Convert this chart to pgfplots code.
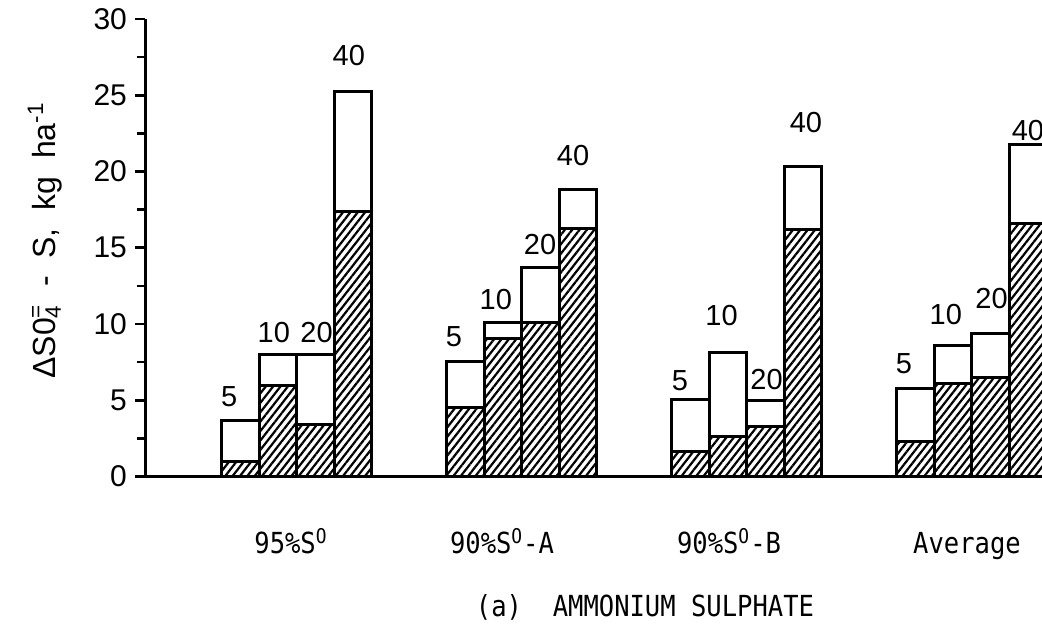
\documentclass[border=0pt]{standalone}
\usepackage{fontspec}
\setmainfont{Liberation Sans}
\newfontfamily\plotmono[FakeStretch=0.88]{DejaVu Sans Mono}
\usepackage{pgfplots}
\pgfplotsset{compat=1.18}
\usetikzlibrary{patterns.meta}
\begin{document}
\begin{tikzpicture}
\begin{axis}[
  at={(0,0)}, anchor=south west,
  scale only axis, width=448.5pt, height=228.75pt,
  xmin=-2.045, xmax=21.875, ymin=0, ymax=30,
  axis lines=left, axis line style={-, line width=1.5pt},
  xtick=\empty,
  ytick={0,5,...,30}, minor ytick={2.5,7.5,...,27.5},
  tick align=outside, major tick length=5pt, minor tick length=4pt,
  every tick/.style={line width=1.3pt, black},
  yticklabel style={font=\fontsize{15}{15}\selectfont, xshift=-0.5pt},
  /pgf/number format/assume math mode=true,
  clip=true,
]
\addplot[ybar, bar width=1, bar shift=0pt, fill=white, draw=black, line width=1.5pt] coordinates {
 (0.5,3.70) (1.5,7.97) (2.5,7.97) (3.5,25.23)
 (6.5,7.53) (7.5,10.09) (8.5,13.72) (9.5,18.83)
 (12.5,5.02) (13.5,8.12) (14.5,4.97) (15.5,20.36)
 (18.5,5.80) (19.5,8.62) (20.5,9.41) (21.5,21.74)
};
\addplot[ybar, bar width=1, bar shift=0pt, draw=black, line width=1.5pt,
  pattern={Lines[angle=52, distance=2.9pt, line width=1.1pt]}] coordinates {
 (0.5,0.97) (1.5,6.00) (2.5,3.44) (3.5,17.36)
 (6.5,4.51) (7.5,9.08) (8.5,10.09) (9.5,16.28)
 (12.5,1.61) (13.5,2.61) (14.5,3.25) (15.5,16.23)
 (18.5,2.28) (19.5,6.13) (20.5,6.46) (21.5,16.62)
};
\begin{scope}[every node/.style={font=\fontsize{14.5}{14.5}\selectfont}]
\node at (axis cs:0.2,5.21) {5};
\node at (axis cs:1.39,9.41) {10};
\node at (axis cs:2.53,9.41) {20};
\node at (axis cs:3.39,27.6) {40};
\node at (axis cs:6.19,9.2) {5};
\node at (axis cs:7.31,11.6) {10};
\node at (axis cs:8.49,15.18) {20};
\node at (axis cs:9.37,21.02) {40};
\node at (axis cs:12.22,6.28) {5};
\node at (axis cs:13.33,10.54) {10};
\node at (axis cs:14.53,6.37) {20};
\node at (axis cs:15.58,23.18) {40};
\node at (axis cs:18.19,7.38) {5};
\node at (axis cs:19.31,10.59) {10};
\node at (axis cs:20.53,11.68) {20};
\node at (axis cs:21.5,22.72) {40};
\end{scope}
\end{axis}
\node[rotate=90, font=\fontsize{16}{16}\selectfont] at (-50pt,118pt)
  {ΔS0\rlap{\textsuperscript{=}}\textsubscript{4}\ \ -\ \ S,\ \ kg\ \ ha\textsuperscript{-1}};
\begin{scope}[every node/.style={font=\plotmono\fontsize{14.5}{14.5}\selectfont, anchor=base}]
\node at (73pt,-38.5pt) {95\%S\textsuperscript{O}};
\node at (178.5pt,-38.5pt) {90\%S\textsuperscript{O}-A};
\node at (292pt,-38.5pt) {90\%S\textsuperscript{O}-B};
\node at (411pt,-38.5pt) {Average};
\node at (250pt,-70pt) {(a)\ \ AMMONIUM SULPHATE};
\end{scope}
\pgfresetboundingbox
\path[use as bounding box] (-72.5pt,-73.25pt) rectangle (448.5pt,238.25pt);
\end{tikzpicture}
\end{document}
